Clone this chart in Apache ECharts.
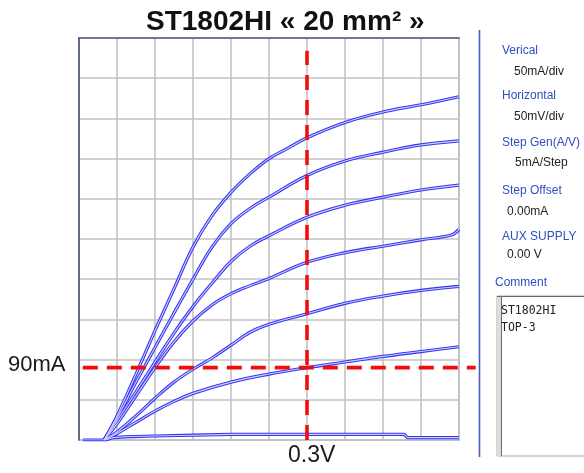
<!DOCTYPE html>
<html>
<head>
<meta charset="utf-8">
<script src="https://cdn.jsdelivr.net/npm/echarts@6/dist/echarts.min.js"></script>
<style>
  html, body { margin: 0; padding: 0; background: #ffffff; }
  #chart { width: 584px; height: 473px; }
</style>
</head>
<body>
<div id="chart"></div>
<script>
// Collector characteristic traces: [Vce in mV, Ic in mA], one list per base step
const step6Trace = [[33,0],[50,30],[75,82],[100,136],[125,188],[150,240],[175,279],[200,308],[225,331],[250,350],[275,363],[300,376],[350,395],[400,408],[450,417],[500,427]];
const step5Trace = [[33,0],[50,27],[75,72],[100,115],[125,158],[150,200],[175,240],[200,269],[225,288],[250,302],[300,329],[350,347],[400,358],[450,367],[500,372]];
const step4Trace = [[33,0],[50,24],[75,60],[100,97],[125,133],[150,166],[175,195],[200,222],[225,241],[250,254],[300,277],[350,292],[400,302],[450,311],[500,317]];
const step3Trace = [[33,0],[50,20],[75,55],[100,90],[125,122],[150,148],[175,168],[200,182],[225,192],[250,201],[300,221],[350,233],[400,241],[450,249],[490,255],[500,262]];
const step2Trace = [[33,0],[50,10],[75,30],[100,52],[125,72],[150,88],[175,102],[200,118],[225,134],[250,144],[300,157],[350,170],[400,179],[450,186],[500,191]];
const step1Trace = [[33,0],[50,8],[75,22],[100,36],[125,48],[150,58],[200,72],[250,82],[300,90],[350,97],[400,104],[450,110],[500,116]];
const step0Trace = [[5,0],[35,0],[45,3],[60,4],[100,5],[150,6],[200,7],[300,7],[428,7],[432,3],[500,3]];

const traces = [step6Trace, step5Trace, step4Trace, step3Trace, step2Trace, step1Trace, step0Trace];

// Operating point cursor
const cursorVoltageMv = 300;
const cursorCurrentMa = 90;
const cursorVoltageLabel = '0.3V';
const cursorCurrentLabel = '90mA';
const cursorCurrentSpanMv = [5, 522];   // horizontal cursor runs a little past the graticule

// Axis scales (10 divisions each)
const xMaxMv = 500, xDivMv = 50;
const yMaxMa = 500, yDivMa = 50;

// Instrument side panel
const panelNames = ['Verical', 'Horizontal', 'Step Gen(A/V)', 'Step Offset', 'AUX SUPPLY'];
const panelValues = ['50mA/div', '50mV/div', '5mA/Step', '0.00mA', '0.00 V'];
const commentLines = ['ST1802HI', 'TOP-3'];
const titleText = 'ST1802HI « 20 mm² »';

const chart = echarts.init(document.getElementById('chart'), null, { renderer: 'canvas' });

const traceSeries = [];
traces.forEach(function (t, i) {
  const smooth = i === traces.length - 1 ? false : 0.4;
  // outer blue stroke
  traceSeries.push({
    type: 'line', data: t, showSymbol: false, smooth: smooth,
    lineStyle: { color: '#3535f2', width: 3.2 }, silent: true, z: 3
  });
  // light core gives the doubled trace look
  traceSeries.push({
    type: 'line', data: t, showSymbol: false, smooth: smooth,
    lineStyle: { color: '#cfcfff', width: 1.1 }, silent: true, z: 4
  });
});

const panelGraphics = [];
const nameY = [51, 96, 143, 191, 237];
const valueY = [72, 117, 163, 212, 255];
const valueX = [514, 514, 515, 507, 507];
panelNames.forEach(function (n, i) {
  panelGraphics.push({ type: 'text', left: 502, top: nameY[i] - 6,
    style: { text: n, fill: '#2f4fbf', font: '12px "Liberation Sans", Arial, sans-serif' } });
  panelGraphics.push({ type: 'text', left: valueX[i], top: valueY[i] - 6,
    style: { text: panelValues[i], fill: '#222222', font: '12px "Liberation Sans", Arial, sans-serif' } });
});

const staticGraphics = [
  { type: 'text', left: 146, top: 8,
    style: { text: titleText, fill: '#111111', font: 'bold 28px "Liberation Sans", Arial, sans-serif' } },
  { type: 'text', left: 8, top: 354,
    style: { text: cursorCurrentLabel, fill: '#1a1a1a', font: '22px "Liberation Sans", Arial, sans-serif' } },
  { type: 'text', left: 288, top: 444,
    style: { text: cursorVoltageLabel, fill: '#1a1a1a', font: '23px "Liberation Sans", Arial, sans-serif' } },
  { type: 'line', shape: { x1: 479.5, y1: 30, x2: 479.5, y2: 457 }, style: { stroke: '#4a5cc0', lineWidth: 1.6 } },
  { type: 'text', left: 495, top: 277,
    style: { text: 'Comment', fill: '#2f4fbf', font: '12px "Liberation Sans", Arial, sans-serif' } },
  { type: 'rect', shape: { x: 497, y: 296, width: 100, height: 160 }, style: { fill: '#ffffff', stroke: '#a8a8a8', lineWidth: 1 } },
  { type: 'rect', shape: { x: 497, y: 296, width: 4, height: 160 }, style: { fill: '#dcdcdc' } },
  { type: 'line', shape: { x1: 501.5, y1: 296, x2: 501.5, y2: 456 }, style: { stroke: '#6a6a6a', lineWidth: 1 } },
  { type: 'line', shape: { x1: 497, y1: 296.5, x2: 584, y2: 296.5 }, style: { stroke: '#6a6a6a', lineWidth: 1 } },
  { type: 'text', left: 501, top: 303,
    style: { text: commentLines.join('\n'), fill: '#222222', font: '11.5px "DejaVu Sans Mono", monospace', lineHeight: 17 } }
].concat(panelGraphics);

chart.setOption({
  animation: false,
  backgroundColor: '#ffffff',
  grid: { left: 79, top: 38, width: 380, height: 402, show: true, borderColor: '#b5c4ea', borderWidth: 2, backgroundColor: 'transparent' },
  xAxis: [{
    type: 'value', min: 0, max: xMaxMv, interval: xDivMv, position: 'bottom',
    axisLine: { show: false }, axisTick: { show: false }, axisLabel: { show: false },
    splitLine: { show: true, lineStyle: { color: '#c2c2c2', width: 1.6 } }
  }, {
    type: 'value', min: 0, max: xMaxMv, interval: xDivMv, position: 'top',
    axisLine: { show: true, onZero: false, lineStyle: { color: '#56627f', width: 1.6 } },
    axisTick: { show: false }, axisLabel: { show: false }, splitLine: { show: false }
  }],
  yAxis: {
    type: 'value', min: 0, max: yMaxMa, interval: yDivMa,
    axisLine: { show: true, onZero: false, lineStyle: { color: '#4b5672', width: 1.6 } },
    axisTick: { show: false }, axisLabel: { show: false },
    splitLine: { show: true, lineStyle: { color: '#c2c2c2', width: 1.6 } }
  },
  series: traceSeries.concat([
    {
      type: 'line', data: [[cursorVoltageMv, 0], [cursorVoltageMv, 484]], showSymbol: false, clip: false,
      lineStyle: { color: '#f20d0d', width: 3.6, type: [15, 10] }, silent: true, z: 6
    }
  ]),
  graphic: staticGraphics
});

// Horizontal cursor extends beyond the graticule, so place it from the axis scales
const p0 = chart.convertToPixel({ xAxisIndex: 0, yAxisIndex: 0 }, [cursorCurrentSpanMv[0], cursorCurrentMa]);
const p1 = chart.convertToPixel({ xAxisIndex: 0, yAxisIndex: 0 }, [cursorCurrentSpanMv[1], cursorCurrentMa]);
chart.setOption({
  graphic: staticGraphics.concat([{
    type: 'line', z: 100,
    shape: { x1: p0[0], y1: p0[1], x2: p1[0], y2: p1[1] },
    style: { stroke: '#f20d0d', lineWidth: 3.6, lineDash: [15, 9] }
  }])
});
</script>
</body>
</html>
